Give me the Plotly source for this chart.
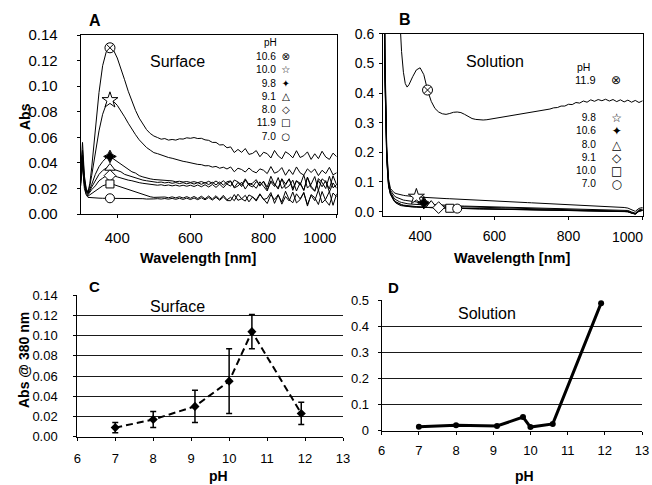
import plotly.graph_objects as go

W, H = 652, 485
FONT = "Liberation Sans, Arial, Helvetica, sans-serif"
SYMFONT = "DejaVu Sans, sans-serif"


def px(x):
    return x / W


def py(y):
    return 1 - y / H


# ---------------- Panel A : surface spectra ----------------
WL_A = [300, 305, 310, 315, 320, 325, 330, 340, 350, 360, 370, 380, 390, 400,
        410, 420, 430, 440, 450, 460, 470, 480, 490, 500] + list(range(510, 1001, 10))

A_106 = [0.034, 0.056, 0.030, 0.020, 0.017, 0.024, 0.036,
         0.066, 0.095, 0.116, 0.127, 0.130, 0.128, 0.122,
         0.114, 0.105, 0.096, 0.088, 0.081, 0.075, 0.070, 0.066, 0.063, 0.061,
         0.0598, 0.0585, 0.0590, 0.0578, 0.0583, 0.0578, 0.0588, 0.0586, 0.0596, 0.0592,
         0.0598, 0.0590, 0.0592, 0.0580, 0.0576, 0.0560, 0.0560, 0.0540, 0.0542, 0.0518,
         0.0525, 0.0481, 0.0505, 0.0482, 0.0512, 0.0466, 0.0474, 0.0496, 0.0448, 0.0483,
         0.0472, 0.0438, 0.0497, 0.0454, 0.0432, 0.0487, 0.0468, 0.0439, 0.0495, 0.0442,
         0.0456, 0.0486, 0.0427, 0.0471, 0.0433, 0.0491, 0.0446, 0.0427, 0.0476, 0.0448]
A_100 = [0.032, 0.050, 0.028, 0.019, 0.017, 0.022, 0.030,
         0.048, 0.065, 0.078, 0.086, 0.089, 0.088, 0.085,
         0.081, 0.076, 0.071, 0.066, 0.062, 0.058, 0.055, 0.052, 0.050, 0.048,
         0.0472, 0.0460, 0.0452, 0.0442, 0.0436, 0.0427, 0.0420, 0.0412, 0.0407, 0.0400,
         0.0395, 0.0388, 0.0386, 0.0377, 0.0378, 0.0367, 0.0372, 0.0358, 0.0366, 0.0352,
         0.0368, 0.0330, 0.0358, 0.0348, 0.0328, 0.0360, 0.0335, 0.0322, 0.0353, 0.0342,
         0.0316, 0.0371, 0.0319, 0.0332, 0.0363, 0.0303, 0.0348, 0.0309, 0.0368, 0.0322,
         0.0304, 0.0353, 0.0325, 0.0352, 0.0300, 0.0342, 0.0316, 0.0365, 0.0306, 0.0323]
A_98 = [0.030, 0.046, 0.026, 0.018, 0.016, 0.019, 0.023,
        0.031, 0.037, 0.041, 0.044, 0.045, 0.043, 0.041,
        0.039, 0.037, 0.035, 0.033, 0.032, 0.030, 0.029, 0.028, 0.0275, 0.027,
        0.0268, 0.0262, 0.0264, 0.0257, 0.0259, 0.0252, 0.0256, 0.0250, 0.0254, 0.0247,
        0.0253, 0.0245, 0.0254, 0.0242, 0.0256, 0.0240, 0.0258, 0.0237, 0.0260, 0.0234,
        0.0218, 0.0266, 0.0251, 0.0227, 0.0275, 0.0230, 0.0242, 0.0269, 0.0218, 0.0257,
        0.0210, 0.0295, 0.0230, 0.0205, 0.0275, 0.0235, 0.0275, 0.0200, 0.0260, 0.0225,
        0.0305, 0.0203, 0.0233, 0.0293, 0.0185, 0.0275, 0.0251, 0.0197, 0.0299, 0.0227]
A_91 = [0.028, 0.044, 0.025, 0.018, 0.016, 0.018, 0.021,
        0.026, 0.031, 0.034, 0.036, 0.036, 0.035, 0.034,
        0.033, 0.031, 0.030, 0.029, 0.028, 0.027, 0.0265, 0.026, 0.0255, 0.025,
        0.0247, 0.0250, 0.0243, 0.0248, 0.0240, 0.0246, 0.0238, 0.0245, 0.0236, 0.0244,
        0.0234, 0.0245, 0.0232, 0.0246, 0.0230, 0.0248, 0.0228, 0.0250, 0.0226, 0.0252,
        0.0259, 0.0208, 0.0247, 0.0214, 0.0265, 0.0226, 0.0211, 0.0253, 0.0229, 0.0253,
        0.0190, 0.0250, 0.0215, 0.0285, 0.0200, 0.0225, 0.0275, 0.0185, 0.0260, 0.0240,
        0.0187, 0.0289, 0.0217, 0.0181, 0.0277, 0.0247, 0.0199, 0.0295, 0.0205, 0.0229]
A_80 = [0.026, 0.042, 0.024, 0.017, 0.015, 0.017, 0.019,
        0.022, 0.026, 0.028, 0.030, 0.030, 0.030, 0.029,
        0.028, 0.027, 0.0265, 0.026, 0.025, 0.0245, 0.024, 0.0235, 0.023, 0.023,
        0.0225, 0.0229, 0.0222, 0.0227, 0.0220, 0.0226, 0.0218, 0.0225, 0.0217, 0.0225,
        0.0215, 0.0227, 0.0213, 0.0229, 0.0211, 0.0231, 0.0208, 0.0234, 0.0205, 0.0238,
        0.0255, 0.0204, 0.0219, 0.0249, 0.0195, 0.0240, 0.0228, 0.0201, 0.0252, 0.0216,
        0.0180, 0.0260, 0.0235, 0.0195, 0.0275, 0.0200, 0.0220, 0.0265, 0.0180, 0.0245,
        0.0183, 0.0285, 0.0207, 0.0177, 0.0261, 0.0213, 0.0261, 0.0171, 0.0243, 0.0201]
A_119 = [0.024, 0.040, 0.022, 0.016, 0.014, 0.015, 0.016,
         0.018, 0.020, 0.022, 0.023, 0.0235, 0.023, 0.022,
         0.021, 0.020, 0.019, 0.018, 0.017, 0.016, 0.015, 0.014, 0.0135, 0.013,
         0.0131, 0.0128, 0.0133, 0.0127, 0.0134, 0.0126, 0.0135, 0.0125, 0.0136, 0.0123,
         0.0137, 0.0121, 0.0139, 0.0119, 0.0141, 0.0117, 0.0143, 0.0114, 0.0146, 0.0111,
         0.0131, 0.0104, 0.0155, 0.0119, 0.0101, 0.0149, 0.0134, 0.0110, 0.0158, 0.0113,
         0.0123, 0.0168, 0.0083, 0.0148, 0.0093, 0.0178, 0.0113, 0.0088, 0.0158, 0.0118,
         0.0164, 0.0074, 0.0146, 0.0104, 0.0188, 0.0086, 0.0116, 0.0176, 0.0068, 0.0158]
A_70 = [0.022, 0.038, 0.020, 0.015, 0.013, 0.0128, 0.0126,
        0.0125, 0.0124, 0.0123, 0.0123, 0.0123, 0.0122, 0.0122,
        0.0121, 0.0120, 0.0122, 0.0119, 0.0121, 0.0118, 0.0120, 0.0117, 0.0120, 0.0118,
        0.0120, 0.0117, 0.0121, 0.0116, 0.0122, 0.0115, 0.0123, 0.0114, 0.0124, 0.0113,
        0.0125, 0.0112, 0.0127, 0.0111, 0.0129, 0.0109, 0.0131, 0.0107, 0.0133, 0.0105,
        0.0104, 0.0152, 0.0107, 0.0119, 0.0146, 0.0095, 0.0134, 0.0101, 0.0152, 0.0113,
        0.0082, 0.0152, 0.0112, 0.0152, 0.0077, 0.0137, 0.0102, 0.0172, 0.0087, 0.0112,
        0.0170, 0.0062, 0.0152, 0.0128, 0.0074, 0.0176, 0.0104, 0.0068, 0.0164, 0.0134]

A_LABELS = ["10.6", "10.0", "9.8", "9.1", "8.0", "11.9", "7.0"]
A_SERIES = [A_106, A_100, A_98, A_91, A_80, A_119, A_70]
A_MARK_WL = [380, 380, 380, 380, 380, 380, 380]

# ---------------- Panel B : solution spectra ----------------
WL_B = [300, 305, 310, 315, 320, 325, 330, 335, 340, 345,
        350, 355, 360, 365, 370, 380, 390, 400, 410,
        420, 430, 440, 450, 460, 470, 480, 490, 500] + list(range(510, 1001, 10))

B_119 = [0.95, 0.95, 0.95, 0.95, 0.95, 0.95, 0.95, 0.90, 0.78, 0.64,
         0.54, 0.47, 0.432, 0.420, 0.428, 0.455, 0.478, 0.485, 0.462,
         0.410, 0.372, 0.348, 0.336, 0.330, 0.328, 0.331, 0.335, 0.336,
         0.334, 0.328, 0.320, 0.314, 0.311, 0.309, 0.309, 0.310, 0.312, 0.314,
         0.316, 0.318, 0.320, 0.322, 0.324, 0.326, 0.328, 0.330, 0.332, 0.334,
         0.336, 0.338, 0.341, 0.344, 0.346, 0.350, 0.351, 0.356, 0.356, 0.362,
         0.361, 0.368, 0.366, 0.373, 0.369, 0.377, 0.372, 0.378, 0.374, 0.379,
         0.373, 0.378, 0.371, 0.377, 0.370, 0.376, 0.369, 0.375, 0.368, 0.374]
B_98 = [1.5, 0.55, 0.22, 0.11, 0.078, 0.069, 0.064, 0.061, 0.059, 0.057,
        0.056, 0.055, 0.054, 0.053, 0.052, 0.051, 0.050, 0.049, 0.048,
        0.047, 0.0465, 0.046, 0.045, 0.0445, 0.044, 0.0435, 0.043, 0.042,
        0.0415, 0.0410, 0.0405, 0.0400, 0.0393, 0.0386, 0.0380, 0.0373, 0.0366, 0.0360,
        0.0353, 0.0347, 0.0340, 0.0334, 0.0328, 0.0322, 0.0316, 0.0310, 0.0304, 0.0298,
        0.0292, 0.0286, 0.0280, 0.0274, 0.0268, 0.0262, 0.0256, 0.0250, 0.0244, 0.0238,
        0.0234, 0.0226, 0.0222, 0.0214, 0.0210, 0.0202, 0.0198, 0.0190, 0.0186, 0.0178,
        0.0172, 0.0166, 0.0158, 0.0150, 0.0140, 0.0120, 0.0070, 0.0010, 0.0110, 0.0140]
B_106 = [1.5, 0.52, 0.21, 0.10, 0.072, 0.061, 0.054, 0.049, 0.046, 0.043,
         0.041, 0.039, 0.038, 0.037, 0.036, 0.034, 0.033, 0.032, 0.030,
         0.028, 0.026, 0.024, 0.023, 0.022, 0.021, 0.0205, 0.020, 0.0195,
         0.0190, 0.0187, 0.0184, 0.0181, 0.0178, 0.0175, 0.0172, 0.0169, 0.0166, 0.0163,
         0.0160, 0.0157, 0.0154, 0.0151, 0.0148, 0.0145, 0.0142, 0.0139, 0.0136, 0.0133,
         0.0130, 0.0127, 0.0124, 0.0121, 0.0118, 0.0115, 0.0112, 0.0109, 0.0106, 0.0103,
         0.0102, 0.0096, 0.0097, 0.0090, 0.0092, 0.0084, 0.0086, 0.0078, 0.0080, 0.0072,
         0.0074, 0.0066, 0.0066, 0.0058, 0.0054, 0.0040, -0.0010, -0.0050, 0.0060, 0.0090]
B_80 = [1.5, 0.50, 0.20, 0.095, 0.066, 0.053, 0.045, 0.040, 0.036, 0.033,
        0.031, 0.029, 0.028, 0.027, 0.026, 0.025, 0.024, 0.0235, 0.023,
        0.0225, 0.022, 0.021, 0.020, 0.019, 0.018, 0.0175, 0.017, 0.0165,
        0.0162, 0.0159, 0.0156, 0.0153, 0.0150, 0.0147, 0.0144, 0.0141, 0.0138, 0.0135,
        0.0132, 0.0129, 0.0126, 0.0123, 0.0120, 0.0117, 0.0114, 0.0111, 0.0108, 0.0105,
        0.0102, 0.0099, 0.0096, 0.0093, 0.0090, 0.0087, 0.0084, 0.0081, 0.0078, 0.0075,
        0.0074, 0.0068, 0.0069, 0.0062, 0.0063, 0.0056, 0.0057, 0.0050, 0.0051, 0.0044,
        0.0045, 0.0038, 0.0036, 0.0030, 0.0024, 0.0010, -0.0040, -0.0070, 0.0030, 0.0060]
B_91 = [1.5, 0.48, 0.19, 0.09, 0.062, 0.048, 0.039, 0.033, 0.029, 0.026,
        0.024, 0.022, 0.021, 0.020, 0.019, 0.018, 0.017, 0.016, 0.0155,
        0.015, 0.0145, 0.014, 0.0135, 0.013, 0.0125, 0.012, 0.0118, 0.0115,
        0.0113, 0.0111, 0.0109, 0.0107, 0.0105, 0.0103, 0.0101, 0.0099, 0.0097, 0.0095,
        0.0093, 0.0091, 0.0089, 0.0087, 0.0085, 0.0083, 0.0081, 0.0079, 0.0077, 0.0075,
        0.0073, 0.0071, 0.0069, 0.0067, 0.0065, 0.0063, 0.0061, 0.0059, 0.0057, 0.0055,
        0.0054, 0.0050, 0.0051, 0.0046, 0.0047, 0.0042, 0.0043, 0.0038, 0.0039, 0.0034,
        0.0035, 0.0030, 0.0028, 0.0024, 0.0018, 0.0005, -0.0045, -0.0075, 0.0020, 0.0050]
B_100 = [1.5, 0.47, 0.18, 0.088, 0.060, 0.046, 0.037, 0.031, 0.027, 0.024,
         0.022, 0.020, 0.019, 0.018, 0.0175, 0.0165, 0.0155, 0.015, 0.0145,
         0.014, 0.0135, 0.013, 0.0125, 0.012, 0.0117, 0.0114, 0.0111, 0.0108,
         0.0106, 0.0104, 0.0102, 0.0100, 0.0098, 0.0096, 0.0094, 0.0092, 0.0090, 0.0088,
         0.0086, 0.0084, 0.0082, 0.0080, 0.0078, 0.0076, 0.0074, 0.0072, 0.0070, 0.0068,
         0.0066, 0.0064, 0.0062, 0.0060, 0.0058, 0.0056, 0.0054, 0.0052, 0.0050, 0.0048,
         0.0047, 0.0043, 0.0044, 0.0039, 0.0040, 0.0035, 0.0036, 0.0031, 0.0032, 0.0027,
         0.0028, 0.0023, 0.0021, 0.0017, 0.0011, -0.0002, -0.0050, -0.0080, 0.0015, 0.0045]
B_70 = [1.5, 0.46, 0.175, 0.085, 0.058, 0.044, 0.035, 0.029, 0.025, 0.022,
        0.020, 0.019, 0.018, 0.017, 0.0165, 0.0155, 0.015, 0.0145, 0.014,
        0.0135, 0.013, 0.0125, 0.012, 0.0116, 0.0112, 0.0109, 0.0106, 0.0103,
        0.0101, 0.0099, 0.0097, 0.0095, 0.0093, 0.0091, 0.0089, 0.0087, 0.0085, 0.0083,
        0.0081, 0.0079, 0.0077, 0.0075, 0.0073, 0.0071, 0.0069, 0.0067, 0.0065, 0.0063,
        0.0061, 0.0059, 0.0057, 0.0055, 0.0053, 0.0051, 0.0049, 0.0047, 0.0045, 0.0043,
        0.0042, 0.0038, 0.0039, 0.0034, 0.0035, 0.0030, 0.0031, 0.0026, 0.0027, 0.0022,
        0.0023, 0.0018, 0.0016, 0.0012, 0.0006, -0.0007, -0.0055, -0.0085, 0.0010, 0.0040]

B_LABELS = ["11.9", "9.8", "10.6", "8.0", "9.1", "10.0", "7.0"]
B_SERIES = [B_119, B_98, B_106, B_80, B_91, B_100, B_70]
B_MARK_WL = [420, 390, 410, 430, 450, 480, 500]

# ---------------- Panel C : surface, Abs @ 380 nm ----------------
C_PH = [7.0, 8.0, 9.1, 10.0, 10.6, 11.9]
C_ABS = [0.009, 0.017, 0.030, 0.055, 0.104, 0.023]
C_ERR = [0.005, 0.008, 0.016, 0.032, 0.017, 0.011]

# ---------------- Panel D : solution ----------------
D_PH = [7.0, 8.0, 9.1, 9.8, 10.0, 10.6, 11.9]
D_ABS = [0.015, 0.021, 0.018, 0.052, 0.014, 0.026, 0.488]

A_TICKS_X = [400, 600, 800, 1000]
A_TICKTEXT_X = ["400", "600", "800", ""]   # "1000" is written inside the frame edge below
LAST_X_LABEL = "1000"
A_TICKS_Y = [0, 0.02, 0.04, 0.06, 0.08, 0.10, 0.12, 0.14]
B_TICKS_Y = [0, 0.1, 0.2, 0.3, 0.4, 0.5, 0.6]
C_TICKS_Y = [0, 0.02, 0.04, 0.06, 0.08, 0.10, 0.12, 0.14]
D_TICKS_Y = [0, 0.1, 0.2, 0.3, 0.4, 0.5]
PH_TICKS = [6, 7, 8, 9, 10, 11, 12, 13]

# marker styles per pH label (panel A)
SYM = {"10.6": "circle-x", "10.0": "star", "9.8": "star-diamond", "9.1": "triangle-up",
       "8.0": "diamond", "11.9": "square", "7.0": "circle"}
GLYPH = {"10.6": "⊗", "10.0": "☆", "9.8": "✦", "9.1": "△",
         "8.0": "◇", "11.9": "□", "7.0": "○"}
# panel B pairing of symbols (as in the figure)
SYM_B = {"11.9": "circle-x", "9.8": "star", "10.6": "star-diamond", "8.0": "triangle-up",
         "9.1": "diamond", "10.0": "square", "7.0": "circle"}
GLYPH_B = {"11.9": "⊗", "9.8": "☆", "10.6": "✦", "8.0": "△",
           "9.1": "◇", "10.0": "□", "7.0": "○"}
SIZE = {"circle-x": 10, "star": 12, "star-diamond": 9, "triangle-up": 9,
        "diamond": 9, "square": 8, "circle": 9}

fig = go.Figure()


def add_spectra(wl, series, labels, mark_wl, syms, xa, ya):
    for vals in series:
        fig.add_trace(go.Scatter(x=wl, y=vals, mode="lines",
                                 line=dict(color="black", width=1),
                                 xaxis=xa, yaxis=ya, showlegend=False, hoverinfo="skip"))
    for vals, lab, mw in zip(series, labels, mark_wl):
        i = wl.index(mw)
        s = syms[lab]
        fill = "black" if s == "star-diamond" else "white"
        fig.add_trace(go.Scatter(x=[wl[i]], y=[vals[i]], mode="markers",
                                 marker=dict(symbol=s, size=SIZE[s], color=fill,
                                             line=dict(color="black", width=1)),
                                 xaxis=xa, yaxis=ya, showlegend=False, cliponaxis=False))


add_spectra(WL_A, A_SERIES, A_LABELS, A_MARK_WL, SYM, "x", "y")
add_spectra(WL_B, B_SERIES, B_LABELS, B_MARK_WL, SYM_B, "x2", "y2")

fig.add_trace(go.Scatter(x=C_PH, y=C_ABS, mode="lines+markers",
                         line=dict(color="black", width=2, dash="7px,4px"),
                         marker=dict(symbol="diamond", size=7, color="black"),
                         error_y=dict(type="data", array=C_ERR, color="black",
                                      thickness=1.5, width=3),
                         xaxis="x3", yaxis="y3", showlegend=False))
fig.add_trace(go.Scatter(x=D_PH, y=D_ABS, mode="lines+markers",
                         line=dict(color="black", width=3),
                         marker=dict(symbol="circle", size=6, color="black"),
                         xaxis="x4", yaxis="y4", showlegend=False))

base = dict(showline=True, linecolor="black", linewidth=1, ticks="outside", ticklen=3,
            tickcolor="black", tickwidth=1, zeroline=False, showgrid=False,
            automargin=False,
            tickfont=dict(family=FONT, size=15, color="black"))

layout = dict(
    template="none", autosize=False,
    width=W, height=H, margin=dict(l=0, r=0, t=0, b=0, pad=0, autoexpand=False),
    paper_bgcolor="white", plot_bgcolor="white", showlegend=False,
    font=dict(family=FONT, color="black"),
    xaxis=dict(base, domain=[px(80.7), px(336.7)], range=[300, 1000], tickvals=A_TICKS_X,
               ticktext=A_TICKTEXT_X, mirror=True, anchor="y", ticklabelstandoff=7),
    yaxis=dict(base, domain=[py(214), py(35)], range=[0, 0.1400001], tickvals=A_TICKS_Y,
               tickformat=".2f", mirror=True, anchor="x", ticklabelstandoff=16),
    xaxis2=dict(base, domain=[px(383), px(642.7)], range=[300, 1000], tickvals=A_TICKS_X,
                ticktext=A_TICKTEXT_X, mirror=True, anchor="y2", ticklabelstandoff=5,
                tickfont=dict(family=FONT, size=14, color="black")),
    yaxis2=dict(base, domain=[py(215.5), py(33.7)], range=[-0.013, 0.6000001],
                tickvals=B_TICKS_Y, tickformat=".1f", mirror=True, anchor="x2",
                ticklabelstandoff=2, tickfont=dict(family=FONT, size=14, color="black")),
    xaxis3=dict(base, domain=[px(77.3), px(343)], range=[6, 13], tickvals=PH_TICKS,
                anchor="y3", ticklabelstandoff=7,
                tickfont=dict(family=FONT, size=13, color="black")),
    yaxis3=dict(base, domain=[py(436.7), py(295.3)], range=[0, 0.1400001], tickvals=C_TICKS_Y,
                tickformat=".2f", anchor="x3", showgrid=True, gridcolor="#1a1a1a",
                gridwidth=1.2, ticklabelstandoff=13,
                tickfont=dict(family=FONT, size=13, color="black")),
    xaxis4=dict(base, domain=[px(381.7), px(642)], range=[6, 13], tickvals=PH_TICKS,
                anchor="y4", ticklabelstandoff=5,
                tickfont=dict(family=FONT, size=13, color="black")),
    yaxis4=dict(base, domain=[py(430.7), py(300)], range=[0, 0.5000001], tickvals=D_TICKS_Y,
                anchor="x4", showgrid=True, gridcolor="#1a1a1a", gridwidth=1.2,
                ticklabelstandoff=6, tickfont=dict(family=FONT, size=13, color="black")),
)
fig.update_layout(**layout)

ann = []


def text(x, y, s, size, bold=False, anchor="center", angle=0, family=FONT, align="center"):
    ann.append(dict(x=px(x), y=py(y), xref="paper", yref="paper",
                    text=(f"<b>{s}</b>" if bold else s), align=align,
                    showarrow=False, xanchor=anchor, yanchor="middle", textangle=angle,
                    borderpad=0, font=dict(family=family, size=size, color="black")))


# last x tick labels, kept inside the frame edge as in the figure
text(337, 237, LAST_X_LABEL, 15, anchor="right")
text(644, 237, LAST_X_LABEL, 14, anchor="right")
# panel letters
text(95, 21, "A", 16, bold=True)
text(405, 20, "B", 16, bold=True)
text(94, 286, "C", 15, bold=True)
text(394, 287, "D", 15, bold=True)
# in-plot titles
text(177, 62, "Surface", 16)
text(495, 62, "Solution", 16)
text(177, 306, "Surface", 16)
text(487, 313, "Solution", 16)
# axis titles
text(25, 117, "Abs", 14, bold=True, angle=-90)
text(24, 360, "Abs @ 380 nm", 14, bold=True, angle=-90)
text(198, 258, "Wavelength [nm]", 14.5, bold=True)
text(512, 258, "Wavelength [nm]", 14.5, bold=True)
text(218, 476, "pH", 14, bold=True)
text(524, 476, "pH", 14, bold=True)

LEG_FS = 10.2  # line spacing 1.3 * font size ~ 13.3 px

# legend A (header + one multi-line column of numbers, one of symbols)
text(270, 42, "pH", 10)
a_mid = (57 + 136) / 2
text(277, a_mid, "<br>".join(A_LABELS), LEG_FS, anchor="right", align="right")
text(286, a_mid, "<br>".join(GLYPH[l] for l in A_LABELS), LEG_FS, family=SYMFONT)

# legend B
text(583, 67, "pH", 10.5)
text(597, 80, B_LABELS[0], 11, anchor="right", align="right")
text(616, 80, f"<span style='font-size:12px'>{GLYPH_B[B_LABELS[0]]}</span>", LEG_FS,
     family=SYMFONT)
b_mid = (117.7 + 183.5) / 2
text(597, b_mid, "<br>".join(B_LABELS[1:]), LEG_FS, anchor="right", align="right")
text(616, b_mid,
     "<br>".join(f"<span style='font-size:12px'>{GLYPH_B[l]}</span>" for l in B_LABELS[1:]),
     LEG_FS, family=SYMFONT)

fig.update_layout(annotations=ann)
fig.write_html("out.html",
               config={"displayModeBar": False},
               post_script="document.body.style.margin='0px';"
                           "document.body.style.overflow='hidden';")
